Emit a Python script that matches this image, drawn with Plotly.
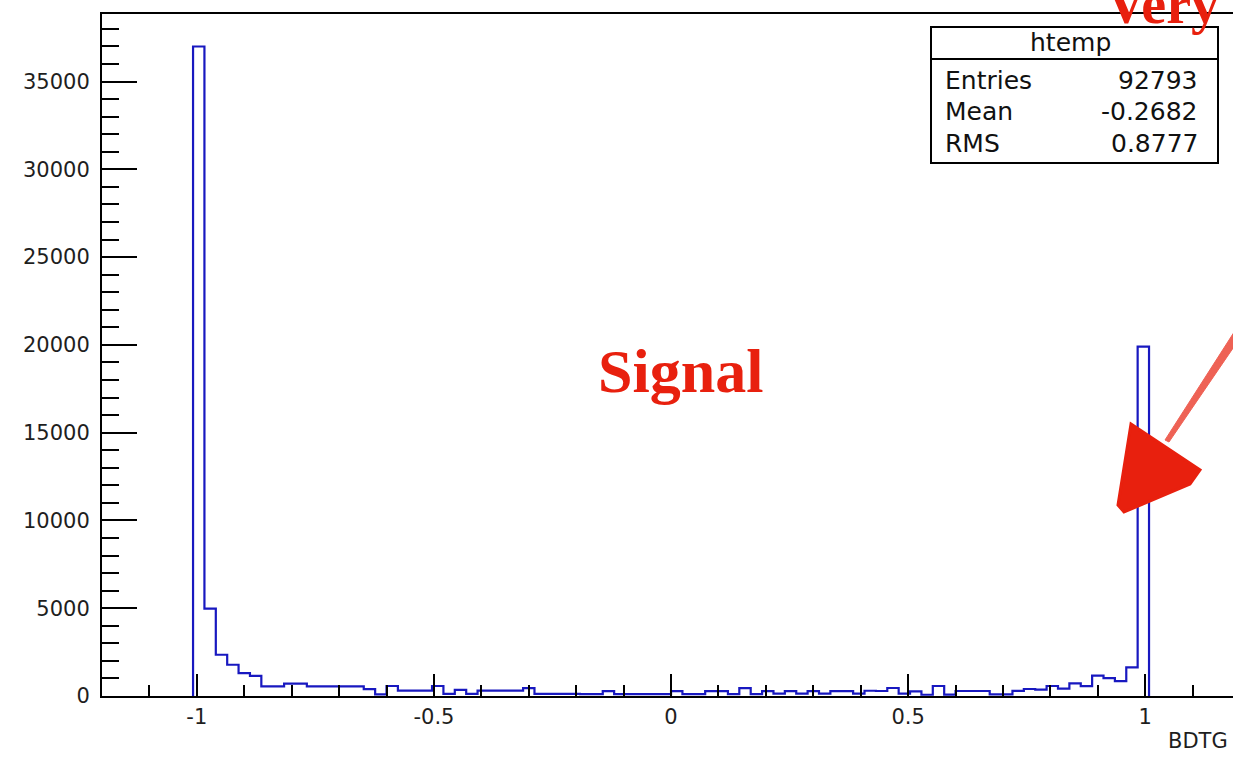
import plotly.graph_objects as go

# ---- histogram definition: 100 bins on [-1.2, 1.2]; only bins 8..91 are filled
N_BINS = 100
X_MIN, X_MAX = -1.2, 1.2
FIRST_BIN = 8

counts = [
    37000, 4980, 2350, 1780, 1300, 1150, 550, 550, 700, 700,
    550, 550, 550, 550, 550, 390, 90, 570, 310, 310,
    310, 570, 120, 350, 120, 310, 310, 310, 310, 450,
    120, 120, 120, 120, 110, 110, 275, 110, 110, 110,
    110, 110, 275, 110, 110, 275, 275, 110, 445, 110,
    275, 130, 280, 130, 280, 130, 280, 280, 130, 300,
    285, 456, 133, 266, 70, 570, 80, 285, 285, 285,
    90, 90, 290, 400, 360, 570, 420, 720, 560, 1160,
    1020, 850, 1630, 19900,
]

x_tickvals = [-1, -0.5, 0, 0.5, 1]
x_ticktext = ["-1", "-0.5", "0", "0.5", "1"]
y_tickvals = [0, 5000, 10000, 15000, 20000, 25000, 30000, 35000]
y_ticktext = ["0", "5000", "10000", "15000", "20000", "25000", "30000", "35000"]

stats_title = "htemp"
stats_names = ["Entries", "Mean", "RMS"]
stats_values = ["92793", "-0.2682", "0.8777"]

x_title = "BDTG"
note_text = "Signal"
corner_text = "Very"

# ---- step outline built from bin edges
width = (X_MAX - X_MIN) / N_BINS
edges = [X_MIN + width * (FIRST_BIN + i) for i in range(len(counts) + 1)]
xs = [edges[0]] + edges
ys = [0] + counts + [0]

fig = go.Figure()
fig.add_trace(go.Scatter(
    x=xs, y=ys, mode="lines", line_shape="hv",
    line=dict(color="#1818c0", width=2.2),
    hoverinfo="skip", showlegend=False,
))

# ---- frame geometry (pixels of the page)
W, H = 1233, 757
L, R, T, B = 102, 1233, 14, 696
PXU = 474.2  # pixels per x unit


def px(x):
    return (x - L) / (R - L)


def py(y):
    return (B - y) / (B - T)


axis_font = dict(family="DejaVu Sans", size=21, color="#1e1e1e")
RED = "#e8200e"

fig.update_layout(
    width=W, height=H,
    margin=dict(l=L, r=W - R, t=T, b=H - B, pad=0),
    paper_bgcolor="white", plot_bgcolor="white",
    xaxis=dict(
        range=[X_MIN, X_MIN + (R - L) / PXU],
        showgrid=False, zeroline=False,
        showline=True, linecolor="black", linewidth=2, mirror=True,
        ticks="inside", ticklen=22, tickwidth=2, tickcolor="black",
        tickvals=x_tickvals, ticktext=x_ticktext,
        minor=dict(dtick=0.1, tick0=0, ticks="inside", ticklen=11,
                   tickwidth=2, tickcolor="black", showgrid=False),
        tickfont=axis_font, ticklabelstandoff=1,
    ),
    yaxis=dict(
        range=[0, 38850],
        showgrid=False, zeroline=False,
        showline=True, linecolor="black", linewidth=2, mirror=False,
        ticks="inside", ticklen=35, tickwidth=2, tickcolor="black",
        tickvals=y_tickvals, ticktext=y_ticktext,
        minor=dict(dtick=1000, tick0=0, ticks="inside", ticklen=17,
                   tickwidth=2, tickcolor="black", showgrid=False),
        tickfont=axis_font, ticklabelstandoff=6,
    ),
)

shapes = []
# statistics box
bx0, by0, bx1, by1 = 931, 27, 1218, 163
shapes.append(dict(type="rect", xref="paper", yref="paper",
                   x0=px(bx0), x1=px(bx1), y0=py(by1), y1=py(by0),
                   line=dict(color="black", width=2), fillcolor="white"))
shapes.append(dict(type="line", xref="paper", yref="paper",
                   x0=px(bx0), x1=px(bx1), y0=py(59), y1=py(59),
                   line=dict(color="black", width=2)))

# hand-drawn red arrow: tapered shaft and a triangular head
shaft = [(1238, 326), (1244, 332), (1169, 442), (1165, 440)]
path = "M " + " L ".join(f"{px(a):.5f},{py(b):.5f}" for a, b in shaft) + " Z"
shapes.append(dict(type="path", xref="paper", yref="paper", path=path,
                   fillcolor=RED, line=dict(color=RED, width=1), opacity=0.7))
head = [(1131, 424), (1200, 470), (1190, 484), (1124, 512), (1118, 505)]
path = "M " + " L ".join(f"{px(a):.5f},{py(b):.5f}" for a, b in head) + " Z"
shapes.append(dict(type="path", xref="paper", yref="paper", path=path,
                   fillcolor=RED, line=dict(color=RED, width=3)))
fig.update_layout(shapes=shapes)

stats_font = dict(family="DejaVu Sans", size=25, color="#111111")
ann = []
ann.append(dict(text=stats_title, x=px(1070), y=py(43), xanchor="center",
                yanchor="middle", font=stats_font))
for i, (nm, val) in enumerate(zip(stats_names, stats_values)):
    yy = py(80 + i * 31.5)
    ann.append(dict(text=nm, x=px(943), y=yy, xanchor="left",
                    yanchor="middle", font=stats_font))
    ann.append(dict(text=val, x=px(1200), y=yy, xanchor="right",
                    yanchor="middle", font=stats_font))
ann.append(dict(text=x_title, x=px(1166), y=py(741), xanchor="left",
                yanchor="middle", font=axis_font))
ann.append(dict(text=note_text, x=px(680), y=py(371), xanchor="center",
                yanchor="middle",
                font=dict(family="Liberation Serif", size=62, color=RED,
                          weight="bold")))
ann.append(dict(text=corner_text, x=px(1104), y=py(4), xanchor="left",
                yanchor="middle",
                font=dict(family="Liberation Serif", size=56, color=RED,
                          weight="bold")))
for a in ann:
    a.update(xref="paper", yref="paper", showarrow=False)
fig.update_layout(annotations=ann)

fig.write_html("out.html")
